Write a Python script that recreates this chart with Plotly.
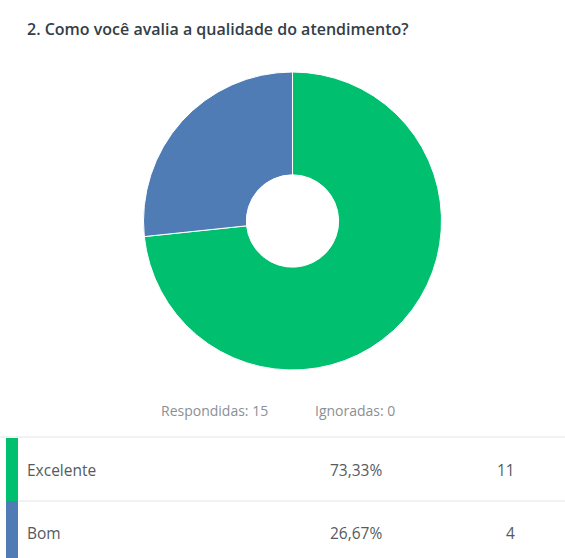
import plotly.graph_objects as go

W, H = 565, 558

title = "2. Como você avalia a qualidade do atendimento?"
categories = ["Excelente", "Bom"]
counts = [11, 4]
percent_labels = ["73,33%", "26,67%"]
colors = ["#00BF6F", "#507CB6"]
answered = 15
skipped = 0

def py(px):
    return 1 - px / H

def pxx(px):
    return px / W

fig = go.Figure()
fig.add_trace(go.Pie(
    labels=categories,
    values=counts,
    sort=False,
    direction="clockwise",
    rotation=0,
    hole=0.31,
    marker=dict(colors=colors, line=dict(color="white", width=1)),
    textinfo="none",
    hoverinfo="label+percent",
    showlegend=False,
    domain=dict(x=[pxx(143.5), pxx(441.5)], y=[py(370), py(72)]),
))

font_main = "'Open Sans', sans-serif"
ann = []
ann.append(dict(x=pxx(25), y=py(29), xref="paper", yref="paper", text=title,
                showarrow=False, xanchor="left", yanchor="middle",
                font=dict(family=font_main, size=16, color="#333e48", weight=600)))
ann.append(dict(x=pxx(159), y=py(410), xref="paper", yref="paper",
                text=f"Respondidas: {answered}", showarrow=False,
                xanchor="left", yanchor="middle",
                font=dict(family=font_main, size=14, color="#8a9095")))
ann.append(dict(x=pxx(313), y=py(410), xref="paper", yref="paper",
                text=f"Ignoradas: {skipped}", showarrow=False,
                xanchor="left", yanchor="middle",
                font=dict(family=font_main, size=14, color="#8a9095")))

shapes = []
shapes.append(dict(type="line", xref="paper", yref="paper", x0=0, x1=1,
                   y0=py(437), y1=py(437), line=dict(color="#e6e6e6", width=1)))
row_top = 438
row_h = 63
for i, (cat, pct, n, c) in enumerate(zip(categories, percent_labels, counts, colors)):
    y0 = row_top + i * row_h
    y1 = y0 + row_h
    yc = (y0 + y1) / 2
    shapes.append(dict(type="rect", xref="paper", yref="paper",
                       x0=pxx(6), x1=pxx(18), y0=py(y1), y1=py(y0),
                       fillcolor=c, line=dict(width=0)))
    if i < len(categories) - 1:
        shapes.append(dict(type="line", xref="paper", yref="paper",
                           x0=pxx(18), x1=1, y0=py(y1), y1=py(y1),
                           line=dict(color="#e6e6e6", width=1)))
    ann.append(dict(x=pxx(25), y=py(yc), xref="paper", yref="paper", text=cat,
                    showarrow=False, xanchor="left", yanchor="middle",
                    font=dict(family=font_main, size=15.5, color="#555b60")))
    ann.append(dict(x=pxx(384), y=py(yc), xref="paper", yref="paper", text=pct,
                    showarrow=False, xanchor="right", yanchor="middle",
                    font=dict(family=font_main, size=15.5, color="#555b60")))
    ann.append(dict(x=pxx(517), y=py(yc), xref="paper", yref="paper", text=str(n),
                    showarrow=False, xanchor="right", yanchor="middle",
                    font=dict(family=font_main, size=15.5, color="#555b60")))

fig.update_layout(
    width=W, height=H,
    margin=dict(l=0, r=0, t=0, b=0),
    paper_bgcolor="white", plot_bgcolor="white",
    annotations=ann, shapes=shapes,
)

fig.write_html("out.html")
